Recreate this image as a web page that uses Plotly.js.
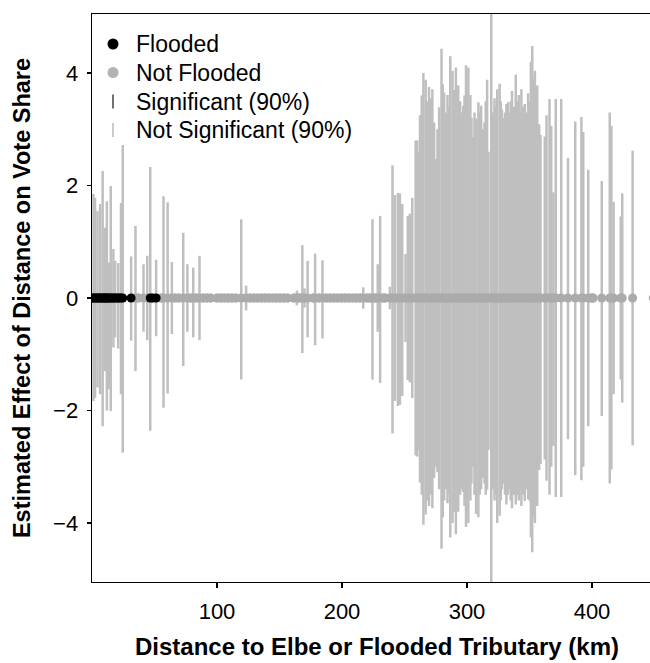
<!DOCTYPE html>
<html>
<head>
<meta charset="utf-8">
<script src="https://cdn.plot.ly/plotly-3.0.1.min.js"></script>
<style>
html,body{margin:0;padding:0;background:#fff;overflow:hidden;}
#chart{width:662px;height:663px;}
</style>
</head>
<body>
<div id="chart"></div>
<script>
// Not flooded municipalities: distance (km), upper and lower half-width of 90% interval
const nfX = [34.8,37.0,41.2,44.2,55.2,57.2,60.5,63.9,66.5,69.5,73.0,76.3,79.0,81.0,83.5,86.0,89.0,92.0,95.0,
  100.0,103.0,106.0,109.0,112.0,115.0,119.4,123.3,126.5,129.5,132.5,135.5,138.5,141.5,144.5,147.5,150.5,153.5,156.5,
  161.5,163.9,166.0,168.3,170.0,172.5,177.0,178.5,181.5,184.4,187.5,190.5,193.5,196.5,199.5,202.5,205.5,208.5,211.5,214.5,
  217.0,220.0,222.5,224.4,226.5,228.6,230.5,233.0,234.5,
  238.3,240.4,242.3,244.7,246.3,248.2,250.8,252.6,254.3,256.2,
  258.9,260.2,261.3,262.4,263.8,265.1,266.9,268.2,269.6,271.0,272.3,273.7,275.0,276.4,277.7,279.6,280.6,281.7,283.0,284.4,285.5,
  286.6,288.4,289.8,291.1,292.0,293.0,294.5,295.7,297.0,298.0,299.2,300.2,301.1,302.7,303.6,304.6,306.0,307.3,309.1,310.2,
  311.3,312.6,314.0,315.0,316.1,317.2,319.4,320.8,322.0,323.1,324.2,326.1,327.0,327.9,329.3,330.4,331.5,332.8,334.0,335.0,
  336.0,337.5,339.0,340.2,341.4,342.5,343.5,344.8,346.2,347.6,348.9,350.0,351.1,352.2,353.3,354.3,355.2,356.2,
  357.7,358.8,362.2,363.6,366.0,367.4,369.1,371.0,375.4,380.8,386.6,391.5,393.0,397.0,399.5,401.0,
  407.8,414.2,415.5,417.3,423.0,424.2,432.5,449.0];
const nfUp = [1.28,0.08,0.60,0.75,0.08,1.81,1.70,0.64,0.08,0.08,1.16,0.60,0.08,0.54,0.08,0.75,0.08,0.08,0.08,
  0.08,0.08,0.08,0.08,0.08,0.08,1.40,0.22,0.08,0.08,0.08,0.08,0.08,0.08,0.08,0.08,0.08,0.08,0.08,
  0.08,0.13,0.08,0.94,0.17,0.66,0.08,0.79,0.08,0.67,0.08,0.08,0.08,0.08,0.08,0.08,0.08,0.08,0.08,0.08,
  0.19,0.08,0.08,1.40,0.08,0.60,1.46,0.08,0.08,
  0.20,2.36,1.83,1.87,1.86,1.67,0.78,1.46,1.50,1.78,
  2.80,2.80,2.60,3.25,3.60,4.00,3.88,3.50,3.75,3.55,3.71,3.12,2.47,3.00,3.39,4.43,3.80,3.65,3.30,3.61,3.40,
  4.30,4.04,3.70,4.10,3.60,3.78,3.50,3.30,3.42,3.60,4.14,3.70,4.10,3.61,3.20,2.86,3.30,3.19,3.48,3.30,
  3.42,3.00,3.12,3.50,3.88,2.60,6.50,3.30,3.55,3.40,3.71,3.81,3.50,3.35,3.20,3.30,3.45,3.48,3.30,3.50,
  3.68,3.40,3.97,3.50,3.61,3.30,3.71,3.40,3.45,3.30,3.64,3.50,4.20,4.48,3.90,4.04,3.70,3.78,
  3.09,2.90,2.87,3.25,3.54,3.06,1.88,3.54,3.54,2.49,3.14,3.22,2.95,2.28,0.08,0.08,
  2.08,3.30,3.06,1.71,1.45,1.86,2.62,0.08];
const nfDown = [1.30,0.08,0.60,0.75,0.08,1.95,1.70,0.64,0.08,0.08,1.21,0.60,0.08,0.70,0.08,0.75,0.08,0.08,0.08,
  0.08,0.08,0.08,0.08,0.08,0.08,1.45,0.22,0.08,0.08,0.08,0.08,0.08,0.08,0.08,0.08,0.08,0.08,0.08,
  0.08,0.13,0.08,0.98,0.17,0.70,0.08,0.84,0.08,0.72,0.08,0.08,0.08,0.08,0.08,0.08,0.08,0.08,0.08,0.08,
  0.19,0.08,0.08,1.45,0.08,0.60,1.51,0.08,0.08,
  0.20,2.41,1.83,1.92,1.90,1.74,0.78,1.46,1.50,1.78,
  2.80,2.82,2.70,3.28,3.50,4.03,3.85,3.60,3.70,3.50,3.74,3.20,3.00,3.10,3.40,4.46,3.90,3.60,3.40,3.65,3.50,
  4.26,4.00,3.80,4.20,3.70,3.80,3.50,3.40,3.45,3.70,4.07,3.80,4.00,3.60,3.30,3.00,3.50,3.84,3.90,3.50,
  3.40,3.20,3.30,3.50,3.41,2.70,6.50,3.40,3.60,3.50,4.00,3.87,3.60,3.40,3.30,3.50,3.67,3.50,3.40,3.60,
  3.74,3.50,3.67,3.50,3.60,3.40,3.70,3.50,3.61,3.40,3.58,3.60,4.26,4.52,3.90,4.00,3.60,3.70,
  3.06,2.95,2.87,3.25,3.50,3.00,2.63,3.54,3.54,2.51,3.15,3.24,3.00,2.28,0.08,0.08,
  2.10,3.30,3.05,1.71,1.45,1.86,2.62,0.08];

// Flooded municipalities
const fX = [0.5,1.2,2.4,3.3,4.4,5.4,6.5,7.5,8.5,9.4,10.2,10.9,11.9,12.8,13.7,15.0,16.0,17.1,18.5,19.6,21.0,22.0,23.2,24.6,31.3,46.6,48.6,51.3];
const fUp = [0.08,1.85,1.78,0.08,1.55,0.08,1.67,0.08,2.26,0.08,1.25,1.03,1.72,0.08,0.63,1.99,0.08,0.87,0.66,0.08,0.62,0.08,1.69,2.72,0.74,2.33,0.08,0.68];
const fDown = [0.08,1.83,1.78,0.08,1.59,0.08,1.71,0.08,2.28,0.08,1.30,1.06,2.00,0.08,1.62,2.01,0.08,0.88,0.70,0.08,0.90,0.08,1.71,2.75,0.76,2.36,0.08,0.68];

const xTicks = [100,200,300,400];
const yTicks = [-4,-2,0,2,4];
const yTickText = ["\u22124","\u22122","0","2","4"];

// legend entries
const legendLabels = ["Flooded","Not Flooded","Significant (90%)","Not Significant (90%)"];
const legendKinds  = ["dot","dot","line","line"];

const FONT = "Liberation Sans, Arial, Helvetica, sans-serif";
const barColor = "#bfbfbf";
const sigColor = "#4d4d4d";
const nfColor = "#ababab";
const fColor = "#000000";
const legendColors = [fColor, "#b3b3b3", sigColor, barColor];

function zeros(a){ return a.map(function(){ return 0; }); }

const traces = [
  {
    type: "scatter", mode: "markers", name: "Not Flooded", showlegend: false,
    x: nfX, y: zeros(nfX),
    marker: {color: nfColor, size: 9},
    error_y: {type: "data", symmetric: false, array: nfUp, arrayminus: nfDown, color: barColor, thickness: 2.5, width: 0}
  },
  {
    type: "scatter", mode: "markers", name: "Flooded", showlegend: false,
    x: fX, y: zeros(fX),
    marker: {color: fColor, size: 9},
    error_y: {type: "data", symmetric: false, array: fUp, arrayminus: fDown, color: barColor, thickness: 2.5, width: 0}
  }
];

// Layout geometry (pixels) used to place the hand-built legend
const W = 662, H = 663, ML = 92, MR = 0, MT = 14, MB = 81;
const PW = W - ML - MR, PH = H - MT - MB;
function px2paperX(px){ return (px - ML) / PW; }
function px2paperY(py){ return 1 - (py - MT) / PH; }

const legendRowsY = [44, 72.5, 101.5, 130];
const legendSymX = 113, legendTextX = 134;

const annotations = legendLabels.map(function(lab, i){
  return {
    xref: "paper", yref: "paper", x: px2paperX(legendTextX), y: px2paperY(legendRowsY[i]),
    xanchor: "left", yanchor: "middle", showarrow: false, text: lab,
    font: {family: FONT, size: 23, color: "#000000"}
  };
});
const shapes = legendLabels.map(function(lab, i){
  const base = {
    xref: "paper", yref: "paper",
    xsizemode: "pixel", ysizemode: "pixel",
    xanchor: px2paperX(legendSymX), yanchor: px2paperY(legendRowsY[i])
  };
  if (legendKinds[i] === "dot") {
    return Object.assign(base, {type: "circle", x0: -5.5, x1: 5.5, y0: -5.5, y1: 5.5,
      fillcolor: legendColors[i], line: {width: 0}});
  }
  return Object.assign(base, {type: "line", x0: 0, x1: 0, y0: -7, y1: 7,
    line: {color: legendColors[i], width: 1.6}});
});

const layout = {
  width: W, height: H,
  margin: {l: ML, r: MR, t: MT, b: MB},
  paper_bgcolor: "#ffffff", plot_bgcolor: "#ffffff",
  font: {family: FONT, color: "#000000", size: 22},
  showlegend: false,
  annotations: annotations,
  shapes: shapes,
  xaxis: {
    range: [0, 456], tickvals: xTicks, ticktext: xTicks.map(String),
    showline: true, linecolor: "#000000", linewidth: 1.4, mirror: true,
    ticks: "outside", ticklen: 5, tickwidth: 1.2, tickcolor: "#000000",
    showgrid: false, zeroline: false,
    tickfont: {family: FONT, size: 22, color: "#000000"},
    ticklabelstandoff: 4,
    title: {text: "<b>Distance to Elbe or Flooded Tributary (km)</b>", font: {family: FONT, size: 24, color: "#000000"}, standoff: 15}
  },
  yaxis: {
    range: [-5.05, 5.05], tickvals: yTicks, ticktext: yTickText,
    showline: true, linecolor: "#000000", linewidth: 1.4, mirror: true,
    ticks: "outside", ticklen: 4, tickwidth: 1.2, tickcolor: "#000000",
    showgrid: false, zeroline: false,
    tickfont: {family: FONT, size: 22, color: "#000000"},
    ticklabelstandoff: 4,
    title: {text: "<b>Estimated Effect of Distance on Vote Share</b>", font: {family: FONT, size: 23.5, color: "#000000"}, standoff: 16}
  }
};

Plotly.newPlot("chart", traces, layout, {displayModeBar: false, staticPlot: true});
</script>
</body>
</html>
